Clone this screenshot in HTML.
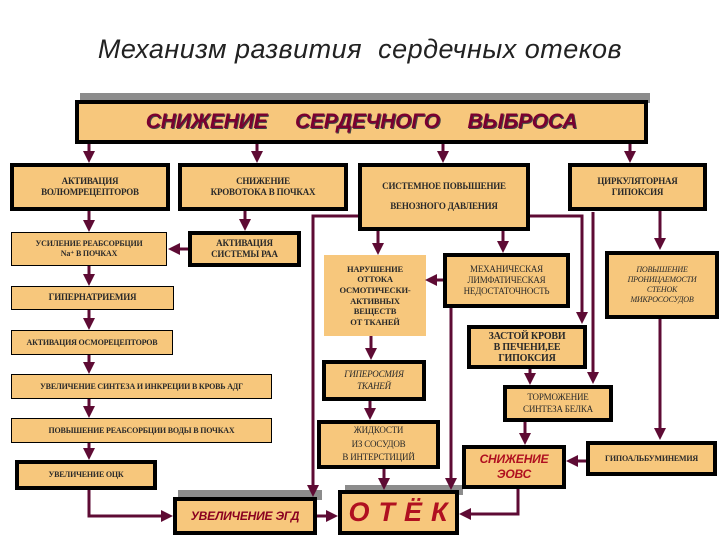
<!DOCTYPE html>
<html><head><meta charset="utf-8"><style>
body{margin:0;width:720px;height:540px;background:#fff;position:relative;overflow:hidden;font-family:"Liberation Serif","DejaVu Serif",serif;}
.b{position:absolute;background:#f7c77c;box-sizing:border-box;display:flex;align-items:center;justify-content:center;text-align:center;color:#2a2a2a;font-size:9px;line-height:1.25;font-weight:bold;letter-spacing:-0.2px}
.t{border:4px solid #000}
.n{border:1.5px solid #000}
.r{color:#b01020;font-family:"Liberation Sans",sans-serif;font-style:italic;font-weight:bold}
.sh{position:absolute;background:#8c8c8c}
.i{font-style:italic}
svg{position:absolute;left:0;top:0}
</style></head><body>
<div style="position:absolute;left:0;width:720px;top:34px;text-align:center;font-family:'Liberation Sans',sans-serif;font-style:italic;font-size:27px;color:#222;letter-spacing:0.5px">Механизм развития&nbsp; сердечных отеков</div>

<div class="sh" style="left:80px;top:93px;width:570px;height:10px"></div>
<div class="b t r" style="left:75px;top:100px;width:573px;height:44px;font-size:21px;color:#7a0030;word-spacing:22px;text-shadow:1px 1px 0 #444">СНИЖЕНИЕ СЕРДЕЧНОГО ВЫБРОСА</div>

<div class="b t" style="left:10px;top:163px;width:160px;height:48px">АКТИВАЦИЯ<br>ВОЛЮМРЕЦЕПТОРОВ</div>
<div class="b t" style="left:178px;top:163px;width:170px;height:48px">СНИЖЕНИЕ<br>КРОВОТОКА В ПОЧКАХ</div>
<div class="b t" style="left:358px;top:163px;width:172px;height:68px;line-height:2.2">СИСТЕМНОЕ ПОВЫШЕНИЕ<br>ВЕНОЗНОГО ДАВЛЕНИЯ</div>
<div class="b t" style="left:568px;top:163px;width:139px;height:48px">ЦИРКУЛЯТОРНАЯ<br>ГИПОКСИЯ</div>

<div class="b n" style="left:11px;top:232px;width:156px;height:34px;font-size:8px">УСИЛЕНИЕ РЕАБСОРБЦИИ<br>Na⁺ В ПОЧКАХ</div>
<div class="b t" style="left:188px;top:231px;width:113px;height:36px">АКТИВАЦИЯ<br>СИСТЕМЫ РАА</div>
<div class="b n" style="left:11px;top:286px;width:163px;height:24px">ГИПЕРНАТРИЕМИЯ</div>
<div class="b n" style="left:11px;top:330px;width:162px;height:25px;font-size:8px">АКТИВАЦИЯ ОСМОРЕЦЕПТОРОВ</div>
<div class="b n" style="left:11px;top:374px;width:261px;height:25px;font-size:8px">УВЕЛИЧЕНИЕ СИНТЕЗА И ИНКРЕЦИИ В КРОВЬ АДГ</div>
<div class="b n" style="left:11px;top:418px;width:261px;height:25px;font-size:8px">ПОВЫШЕНИЕ РЕАБСОРБЦИИ ВОДЫ В ПОЧКАХ</div>
<div class="b t" style="left:15px;top:460px;width:142px;height:30px;font-size:8px">УВЕЛИЧЕНИЕ ОЦК</div>

<div class="sh" style="left:178px;top:490px;width:144px;height:10px"></div>
<div class="b t r" style="left:173px;top:497px;width:144px;height:38px;font-size:12px;color:#8a0020">УВЕЛИЧЕНИЕ ЭГД</div>
<div class="sh" style="left:345px;top:485px;width:118px;height:10px"></div>
<div class="b t r" style="left:338px;top:490px;width:121px;height:45px;font-size:27px;letter-spacing:9px;white-space:nowrap;padding-left:8px">ОТЁК</div>

<div class="b n" style="left:324px;top:255px;width:102px;height:81px;border:none;font-size:8.5px">НАРУШЕНИЕ<br>ОТТОКА<br>ОСМОТИЧЕСКИ-<br>АКТИВНЫХ<br>ВЕЩЕСТВ<br>ОТ ТКАНЕЙ</div>
<div class="b t" style="left:443px;top:253px;width:127px;height:55px;font-weight:normal">МЕХАНИЧЕСКАЯ<br>ЛИМФАТИЧЕСКАЯ<br>НЕДОСТАТОЧНОСТЬ</div>
<div class="b t i" style="left:322px;top:360px;width:104px;height:41px;font-weight:normal">ГИПЕРОСМИЯ<br>ТКАНЕЙ</div>
<div class="b t" style="left:317px;top:420px;width:123px;height:49px;font-weight:normal;line-height:1.5">ЖИДКОСТИ<br>ИЗ СОСУДОВ<br>В ИНТЕРСТИЦИЙ</div>
<div class="b t" style="left:467px;top:325px;width:120px;height:44px;font-size:10px;line-height:1.1">ЗАСТОЙ КРОВИ<br>В ПЕЧЕНИ,ЕЕ<br>ГИПОКСИЯ</div>
<div class="b t" style="left:503px;top:385px;width:110px;height:37px;font-weight:normal">ТОРМОЖЕНИЕ<br>СИНТЕЗА БЕЛКА</div>
<div class="b t r" style="left:462px;top:445px;width:104px;height:44px;font-size:12px">СНИЖЕНИЕ<br>ЭОВС</div>
<div class="b t i" style="left:605px;top:251px;width:114px;height:68px;font-size:8px;font-weight:normal">ПОВЫШЕНИЕ<br>ПРОНИЦАЕМОСТИ<br>СТЕНОК<br>МИКРОСОСУДОВ</div>
<div class="b t" style="left:586px;top:441px;width:131px;height:35px;font-size:8px">ГИПОАЛЬБУМИНЕМИЯ</div>

<svg width="720" height="540" viewBox="0 0 720 540">
<defs><marker id="a" markerWidth="4" markerHeight="4" refX="3" refY="2" orient="auto" markerUnits="strokeWidth"><path d="M0,0L4,2L0,4z" fill="#5e0b34"/></marker></defs>
<g stroke="#5e0b34" stroke-width="3" fill="none" marker-end="url(#a)">
<path d="M89 144V160"/><path d="M257 144V160"/><path d="M443 144V160"/><path d="M630 144V160"/>
<path d="M89 211V229"/><path d="M245 211V228"/><path d="M188 249H171"/>
<path d="M89 266V283"/><path d="M89 310V327"/><path d="M89 355V371"/><path d="M89 399V415"/><path d="M89 443V457"/>
<path d="M89 490V516H170"/><path d="M317 516H335"/>
<path d="M358 216H313V494"/><path d="M530 216H582V321"/><path d="M593 212V381"/>
<path d="M378 231V252"/><path d="M503 231V250"/><path d="M443 280H428"/>
<path d="M451 308V487"/><path d="M371 336V357"/><path d="M370 401V417"/><path d="M384 469V487"/>
<path d="M530 369V382"/><path d="M525 422V442"/><path d="M518 489V514H462"/>
<path d="M660 211V247"/><path d="M660 319V437"/><path d="M586 461H569"/>
</g>
</svg>
</body></html>
